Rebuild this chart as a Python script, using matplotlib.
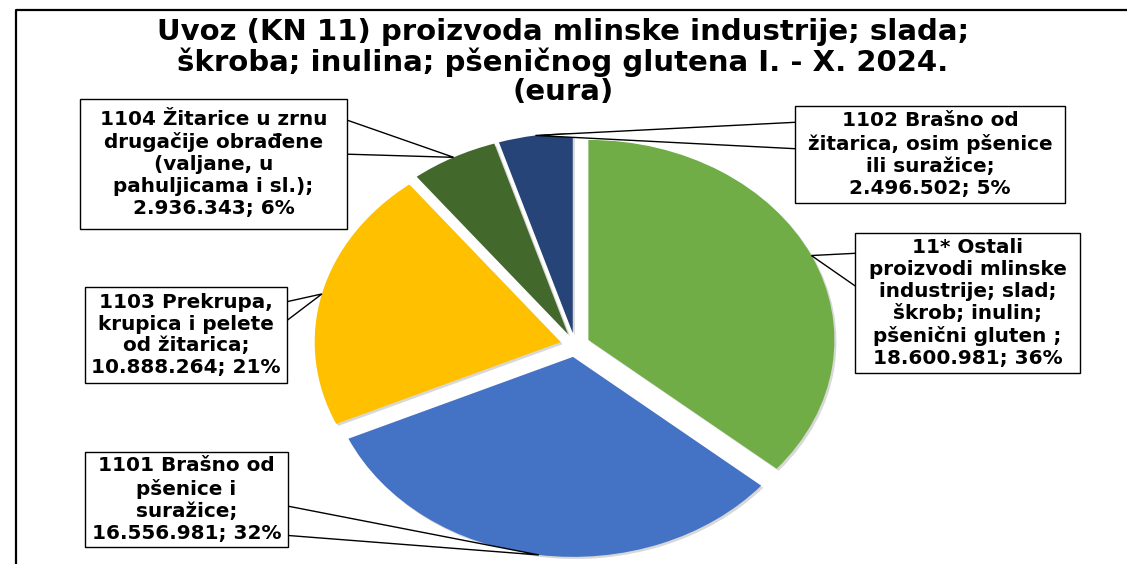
import matplotlib
matplotlib.use("Agg")
import matplotlib.pyplot as plt
import numpy as np
from matplotlib.lines import Line2D
from matplotlib.patches import Polygon, Rectangle
from matplotlib import patheffects as pe

plt.rcParams['font.family'] = ['DejaVu Sans']

# Import of CN chapter 11 products, I - X 2024 (EUR)
names = [
    "11* Ostali\nproizvodi mlinske\nindustrije; slad;\nškrob; inulin;\npšenični gluten ;",
    "1101 Brašno od\npšenice i\nsuražice;",
    "1103 Prekrupa,\nkrupica i pelete\nod žitarica;",
    "1104 Žitarice u zrnu\ndrugačije obrađene\n(valjane, u\npahuljicama i sl.);",
    "1102 Brašno od\nžitarica, osim pšenice\nili suražice;",
]
values = [18600981, 16556981, 10888264, 2936343, 2496502]
colors = ["#70AD47", "#4472C4", "#FFC000", "#43682B", "#264478"]

title = ("Uvoz (KN 11) proizvoda mlinske industrije; slada;\n"
         "škroba; inulina; pšeničnog glutena I. - X. 2024.\n(eura)")

W, H = 1127, 564
fig = plt.figure(figsize=(W / 100, H / 100), dpi=100)
fig.patch.set_facecolor("white")

# one axis unit = 246 px horizontally and 200 px vertically
SX, SY = 246.0, 200.0
ax = fig.add_axes([0, 0, 1, 1])

def px(x, y):
    return x / SX, (H - y) / SY

center = px(575, 345)
explode = [0.06] * len(values)
wedges, _ = ax.pie(values, colors=colors, startangle=90, counterclock=False,
                   explode=explode, radius=1.0, center=center,
                   wedgeprops=dict(linewidth=0))
for w in wedges:
    w.set_path_effects([pe.SimplePatchShadow(offset=(1.5, -1.5),
                                             shadow_rgbFace="#7f7f7f", alpha=0.3),
                        pe.Normal()])

ax.set_xlim(0, W / SX)
ax.set_ylim(0, H / SY)
ax.set_aspect("auto")
ax.axis("off")

# callout boxes: (left, top, right, bottom) in px, side of the tail, tail span
boxes = [
    ((855, 233, 1080, 373), "left", (253, 290)),
    ((85, 452, 288, 547), "right", (505, 535)),
    ((85, 287, 287, 383), "right", (303, 325)),
    ((80, 99, 347, 229), "right", (118, 154)),
    ((795, 106, 1065, 203), "left", (122, 149)),
]

total = sum(values)
for w, name, v, (box, side, span) in zip(wedges, names, values, boxes):
    mid = np.deg2rad((w.theta1 + w.theta2) / 2)
    cx, cy = w.center
    tip = (cx + w.r * np.cos(mid), cy + w.r * np.sin(mid))

    x0, y0, x1, y1 = box
    bx = x0 + 6 if side == "left" else x1 - 6
    tail = Polygon([px(bx, span[0]), tip, px(bx, span[1])], closed=True,
                   fc="white", ec="black", lw=1, zorder=4)
    ax.add_patch(tail)
    (lx, ty), (rx, by) = px(x0, y0), px(x1, y1)
    ax.add_patch(Rectangle((lx, by), rx - lx, ty - by, fc="white", ec="black",
                           lw=1, zorder=5))

    val = f"{v:,}".replace(",", ".")
    pct = round(v / total * 100)
    ax.text((lx + rx) / 2, (ty + by) / 2, f"{name}\n{val}; {pct}%",
            ha="center", va="center", multialignment="center",
            fontsize=14.4, fontweight="bold", linespacing=1.2, zorder=6)

fig.text(563 / W, 1 - 62 / H, title, ha="center", va="center",
         fontsize=21, fontweight="bold", linespacing=1.07)

# chart frame
fx, fy = 16 / W, 1 - 10 / H
fig.add_artist(Line2D([fx, fx, 1.0], [0.0, fy, fy], color="black", lw=1.6))

fig.savefig("out.png", dpi=100, facecolor="white")
